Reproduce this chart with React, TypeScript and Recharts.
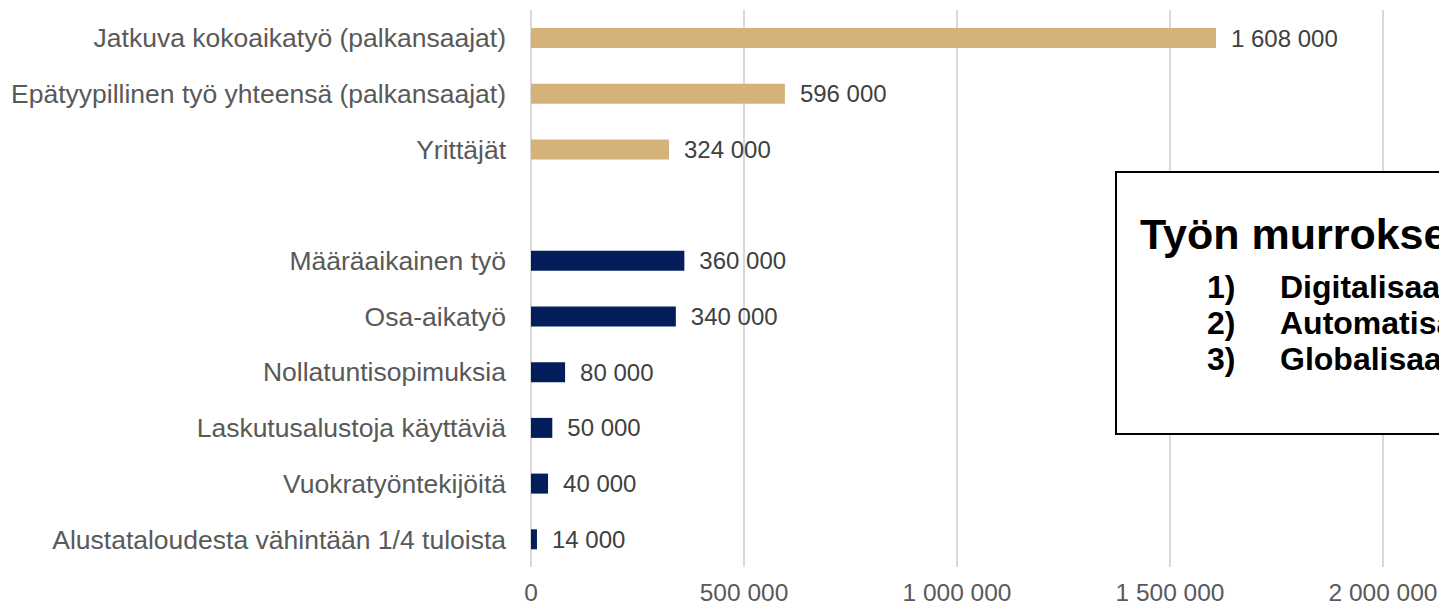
import { BarChart, Bar, XAxis, YAxis, CartesianGrid, Cell, LabelList } from "recharts"

const categories = [
  "Jatkuva kokoaikatyö (palkansaajat)",
  "Epätyypillinen työ yhteensä (palkansaajat)",
  "Yrittäjät",
  " ",
  "Määräaikainen työ",
  "Osa-aikatyö",
  "Nollatuntisopimuksia",
  "Laskutusalustoja käyttäviä",
  "Vuokratyöntekijöitä",
  "Alustataloudesta vähintään 1/4 tuloista",
]

const values = [1608000, 596000, 324000, null, 360000, 340000, 80000, 50000, 40000, 14000]

// which group each row belongs to: "main" = gold, "sub" = navy
const groups = ["main", "main", "main", "", "sub", "sub", "sub", "sub", "sub", "sub"]

const xTicks = [0, 500000, 1000000, 1500000, 2000000]

const boxTitle = "Työn murrokset"
const boxItems = ["Digitalisaatio", "Automatisaatio", "Globalisaatio"]

const GOLD = "#D5B27B"
const NAVY = "#041E5B"
const FONT = "'Liberation Sans', Arial, sans-serif"

const fmt = (v: number | null | undefined) =>
  v == null ? "" : String(v).replace(/\B(?=(\d{3})+(?!\d))/g, " ")

export default function App() {
  const data = categories.map((name, i) => ({
    name,
    value: values[i],
    group: groups[i],
  }))

  return (
    <div
      style={{
        position: "fixed",
        left: 0,
        top: 0,
        width: 1439,
        height: 606,
        overflow: "hidden",
        background: "#fff",
        fontFamily: FONT,
      }}
    >
      <BarChart
        width={1500}
        height={606}
        data={data}
        layout="vertical"
        margin={{ top: 10, right: 117, bottom: 0, left: 0 }}
      >
        <CartesianGrid horizontal={false} stroke="#d9d9d9" strokeWidth={2} />
        <XAxis
          type="number"
          domain={[0, 2000000]}
          ticks={xTicks}
          tickFormatter={fmt}
          axisLine={false}
          tickLine={false}
          tickSize={0}
          tickMargin={17}
          height={39}
          tick={{ fill: "#595959", fontSize: 24.5, fontFamily: FONT }}
        />
        <YAxis
          type="category"
          dataKey="name"
          width={531}
          axisLine={false}
          tickLine={false}
          tickSize={0}
          tickMargin={25}
          interval={0}
          tick={{ fill: "#595959", fontSize: 26.5, fontFamily: FONT }}
        />
        <Bar dataKey="value" barSize={20} isAnimationActive={false}>
          {data.map((d, i) => (
            <Cell key={i} fill={d.group === "main" ? GOLD : NAVY} />
          ))}
          <LabelList
            dataKey="value"
            position="right"
            offset={15}
            formatter={fmt}
            style={{ fill: "#404040", fontSize: 24, fontFamily: FONT }}
          />
        </Bar>
      </BarChart>

      <div
        style={{
          position: "absolute",
          left: 1115,
          top: 171,
          width: 420,
          height: 260,
          border: "2px solid #000",
          background: "#fff",
          color: "#000",
          fontWeight: "bold",
        }}
      >
        <div
          style={{
            position: "absolute",
            left: 23,
            top: 40,
            fontSize: 43,
            lineHeight: "43px",
            whiteSpace: "nowrap",
          }}
        >
          {boxTitle}
        </div>
        {boxItems.map((t, i) => (
          <div
            key={t}
            style={{
              position: "absolute",
              top: 96 + i * 36,
              left: 90,
              fontSize: 32,
              lineHeight: "36px",
              whiteSpace: "nowrap",
            }}
          >
            <span style={{ display: "inline-block", width: 73 }}>{i + 1})</span>
            {t}
          </div>
        ))}
      </div>
    </div>
  )
}
